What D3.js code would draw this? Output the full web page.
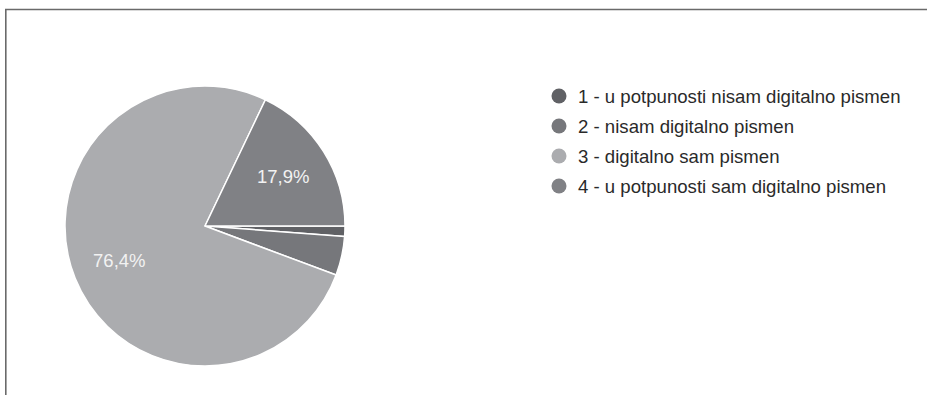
<!DOCTYPE html>
<html>
<head>
<meta charset="utf-8">
<script src="https://cdn.jsdelivr.net/npm/d3@7/dist/d3.min.js"></script>
<style>
  html, body { margin: 0; padding: 0; background: #fff; }
  svg { display: block; }
</style>
</head>
<body>
<svg id="chart" width="927" height="395"></svg>
<script>
// Survey answers: self-assessed digital literacy
const categories = [
  "1 - u potpunosti nisam digitalno pismen",
  "2 - nisam digitalno pismen",
  "3 - digitalno sam pismen",
  "4 - u potpunosti sam digitalno pismen"
];
const shares = [1.2, 4.5, 76.4, 17.9];
const valueLabels = ["", "", "76,4%", "17,9%"];
const colors = ["#606165", "#76777b", "#abacaf", "#808185"];

const svg = d3.select("#chart");

// frame lines (top and left)
svg.append("line").attr("x1", 5).attr("x2", 927).attr("y1", 9.5).attr("y2", 9.5)
  .attr("stroke", "#6a6a6a").attr("stroke-width", 1.6);
svg.append("line").attr("x1", 5.8).attr("x2", 5.8).attr("y1", 9).attr("y2", 395)
  .attr("stroke", "#6a6a6a").attr("stroke-width", 1.6);

const cx = 205, cy = 226, r = 140;

const pie = d3.pie()
  .value(d => d)
  .sort(null)
  .startAngle(Math.PI / 2)
  .endAngle(Math.PI / 2 + 2 * Math.PI);

const arcs = pie(shares);
const arc = d3.arc().innerRadius(0).outerRadius(r);
const labelArc = d3.arc().innerRadius(r * 0.66).outerRadius(r * 0.66);

const g = svg.append("g").attr("transform", `translate(${cx},${cy})`);

g.selectAll("path.slice")
  .data(arcs)
  .join("path")
  .attr("class", "slice")
  .attr("d", arc)
  .attr("fill", (d, i) => colors[i])
  .attr("stroke", "#ffffff")
  .attr("stroke-width", 1.5)
  .attr("stroke-linejoin", "round");

g.selectAll("text.val")
  .data(arcs)
  .join("text")
  .attr("class", "val")
  .attr("transform", d => `translate(${labelArc.centroid(d)})`)
  .attr("text-anchor", "middle")
  .attr("dominant-baseline", "central")
  .attr("font-family", "Liberation Sans, Arial, sans-serif")
  .attr("font-size", 18.5)
  .attr("fill", "#f2f2f2")
  .text((d, i) => valueLabels[i]);

// legend
const legend = svg.append("g").attr("transform", "translate(559,96)");
const rows = legend.selectAll("g.row")
  .data(categories)
  .join("g")
  .attr("class", "row")
  .attr("transform", (d, i) => `translate(0,${i * 30})`);

rows.append("circle")
  .attr("r", 7.5)
  .attr("fill", (d, i) => colors[i]);

rows.append("text")
  .attr("x", 19)
  .attr("dominant-baseline", "central")
  .attr("font-family", "Liberation Sans, Arial, sans-serif")
  .attr("font-size", 18.6)
  .attr("fill", "#2a2a2a")
  .text(d => d);
</script>
</body>
</html>
